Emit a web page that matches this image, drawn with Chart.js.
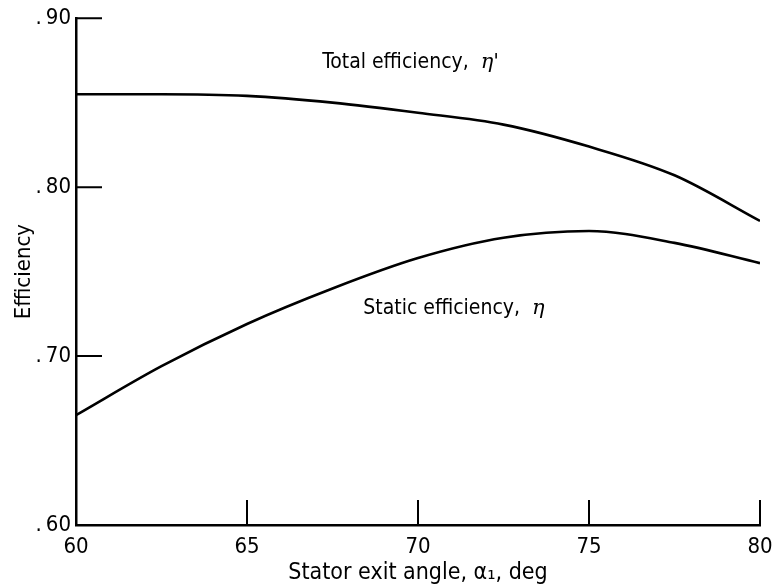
<!DOCTYPE html>
<html>
<head>
<meta charset="utf-8">
<script src="https://cdn.jsdelivr.net/npm/chart.js@4.4.1/dist/chart.umd.min.js"></script>
<style>
  html, body { margin: 0; padding: 0; background: #fff; }
  #wrap { width: 773px; height: 588px; position: relative; }
</style>
</head>
<body>
<div id="wrap"><canvas id="effChart"></canvas></div>
<script>
// Stator exit angle, deg
const angles = [60, 62.5, 65, 67.5, 70, 72.5, 75, 77.5, 80];
// Total efficiency (eta prime) and static efficiency (eta)
const totalEff = [0.855, 0.855, 0.854, 0.850, 0.844, 0.837, 0.824, 0.807, 0.780];
const staticEff = [0.665, 0.694, 0.719, 0.740, 0.758, 0.770, 0.774, 0.767, 0.755];

const xTicks = [60, 65, 70, 75, 80];
const yTicks = [0.60, 0.70, 0.80, 0.90];

const curveLabels = [
  { text: 'Total efficiency,  ', greek: "η'", x: 67.2, y: 0.874 },
  { text: 'Static efficiency,  ', greek: 'η', x: 68.4, y: 0.728 }
];

const tickFont = "'Liberation Sans Narrow', 'DejaVu Sans Condensed', sans-serif";
const textFont = "'Liberation Sans Narrow', 'DejaVu Sans Condensed', sans-serif";

function toPoints(ys) {
  return angles.map((a, i) => ({ x: a, y: ys[i] }));
}

// inward tick marks and the two curve captions
const inwardTicks = {
  id: 'inwardTicks',
  afterDatasetsDraw(chart) {
    const { ctx, scales: { x, y } } = chart;
    ctx.save();
    ctx.strokeStyle = '#000';
    ctx.lineWidth = 2;
    ctx.beginPath();
    xTicks.slice(1).forEach(v => {
      const px = x.getPixelForValue(v);
      ctx.moveTo(px, y.bottom);
      ctx.lineTo(px, y.bottom - 25);
    });
    yTicks.slice(1).forEach(v => {
      const py = y.getPixelForValue(v);
      ctx.moveTo(x.left, py);
      ctx.lineTo(x.left + 26, py);
    });
    ctx.stroke();

    ctx.fillStyle = '#000';
    ctx.textBaseline = 'middle';
    curveLabels.forEach(l => {
      const px = x.getPixelForValue(l.x);
      const py = y.getPixelForValue(l.y);
      ctx.font = '21px ' + textFont;
      ctx.fillText(l.text, px, py);
      const w = ctx.measureText(l.text).width;
      ctx.font = 'italic 21px "DejaVu Serif", serif';
      ctx.fillText(l.greek, px + w, py);
    });
    ctx.restore();
  }
};

new Chart(document.getElementById('effChart'), {
  type: 'line',
  data: {
    datasets: [
      {
        label: 'Total efficiency',
        data: toPoints(totalEff),
        borderColor: '#000',
        borderWidth: 2.6,
        pointRadius: 0,
        cubicInterpolationMode: 'monotone',
        fill: false
      },
      {
        label: 'Static efficiency',
        data: toPoints(staticEff),
        borderColor: '#000',
        borderWidth: 2.6,
        pointRadius: 0,
        cubicInterpolationMode: 'monotone',
        fill: false
      }
    ]
  },
  options: {
    responsive: true,
    maintainAspectRatio: false,
    animation: false,
    layout: { padding: { top: 18, right: 13, left: 0, bottom: 0 } },
    plugins: {
      legend: { display: false },
      tooltip: { enabled: false }
    },
    scales: {
      x: {
        type: 'linear',
        min: 60,
        max: 80,
        afterBuildTicks: s => { s.ticks = xTicks.map(v => ({ value: v })); },
        afterFit: s => {
          s.height = 63;
          s.paddingLeft = 0;
          s.paddingRight = 0;
        },
        grid: { display: false, drawTicks: false },
        border: { display: true, color: '#000', width: 2.5 },
        ticks: {
          color: '#000',
          padding: 9,
          font: { family: tickFont, size: 22 },
          maxRotation: 0
        },
        title: {
          display: true,
          text: 'Stator exit angle, α₁, deg',
          color: '#000',
          font: { family: textFont, size: 23 },
          padding: { top: 0, bottom: 1 }
        }
      },
      y: {
        min: 0.6,
        max: 0.9,
        afterBuildTicks: s => { s.ticks = yTicks.map(v => ({ value: v })); },
        afterFit: s => { s.width = 76; },
        grid: { display: false, drawTicks: false },
        border: { display: true, color: '#000', width: 2.5 },
        ticks: {
          color: '#000',
          padding: 5,
          font: { family: tickFont, size: 22 },
          callback: v => '.\u2009' + Math.round(v * 100)
        },
        title: {
          display: true,
          text: 'Efficiency',
          color: '#000',
          font: { family: textFont, size: 22 },
          padding: { top: 11, bottom: 0 }
        }
      }
    }
  },
  plugins: [inwardTicks]
});
</script>
</body>
</html>
